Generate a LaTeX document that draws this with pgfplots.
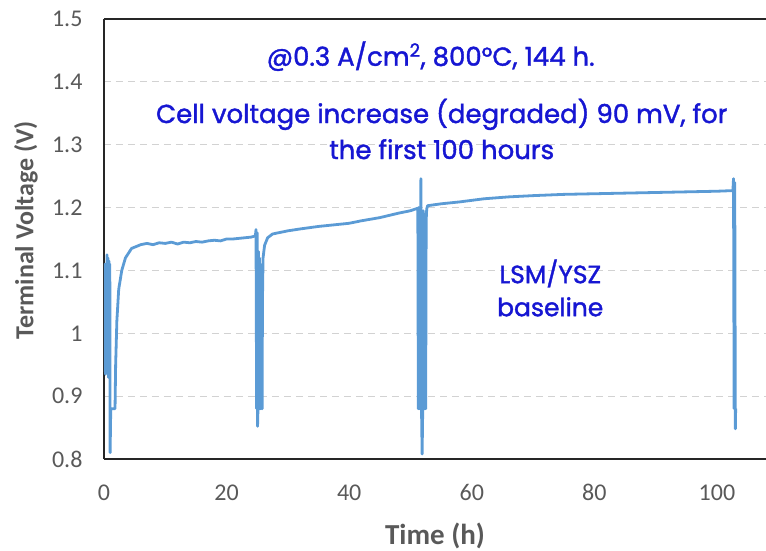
\documentclass[border=0pt]{standalone}
\usepackage{pgfplots}
\usepackage{pgfplotstable}
\pgfplotsset{compat=1.18}
\usepackage{fontspec}
\setmainfont{Carlito}
\newfontfamily\annfont[FakeBold=1.5]{Poppins}
\definecolor{curveblue}{RGB}{91,155,213}
\definecolor{tickgray}{RGB}{89,89,89}
\definecolor{anncol}{RGB}{22,22,210}
\definecolor{gridgray}{RGB}{210,210,210}

\pgfplotstableread{
t V
0.00 1.100
0.08 0.940
0.16 1.110
0.24 0.935
0.32 1.110
0.40 0.940
0.48 1.125
0.56 0.945
0.64 1.120
0.72 0.930
0.80 1.115
0.88 0.930
0.95 1.110
1.00 0.810
1.10 0.880
1.40 0.880
1.80 0.880
1.90 0.950
2.10 1.020
2.40 1.070
2.90 1.100
3.50 1.120
4.50 1.135
6.00 1.141
7.00 1.143
8.00 1.141
9.00 1.144
10.0 1.143
11.0 1.145
12.0 1.142
13.0 1.145
14.0 1.144
15.0 1.146
16.0 1.145
17.0 1.147
18.0 1.148
19.0 1.147
20.0 1.150
21.0 1.150
22.0 1.151
23.0 1.152
24.0 1.153
24.70 1.155
24.80 1.165
24.90 0.880
25.00 1.160
25.05 0.852
25.12 0.880
25.20 1.130
25.28 0.880
25.36 1.120
25.44 0.880
25.52 1.110
25.60 0.880
25.70 1.050
25.80 0.880
25.85 1.050
25.95 1.120
26.20 1.140
26.70 1.152
27.50 1.158
30.0 1.163
32.0 1.166
35.0 1.170
38.0 1.173
40.0 1.175
42.0 1.179
45.0 1.184
48.0 1.191
50.0 1.195
51.2 1.199
51.28 0.880
51.36 1.200
51.44 0.880
51.52 1.200
51.60 0.880
51.70 1.246
51.80 0.880
51.90 0.808
52.00 0.880
52.08 1.195
52.16 0.880
52.24 1.190
52.32 0.880
52.40 1.185
52.48 0.880
52.56 1.180
52.65 1.198
52.80 1.203
55.0 1.206
58.0 1.209
62.0 1.214
66.0 1.217
70.0 1.219
75.0 1.221
80.0 1.222
85.0 1.223
90.0 1.224
95.0 1.225
100.0 1.226
102.6 1.227
102.70 1.246
102.80 0.880
102.90 1.240
103.00 0.848
103.05 0.880
}\datatable

\begin{document}
\begin{tikzpicture}
\begin{axis}[
  at={(0,0)}, anchor=south west,
  scale only axis, width=662pt, height=440pt,
  xmin=0, xmax=108, ymin=0.8, ymax=1.5,
  axis x line=box, axis y line=left,
  x axis line style={-, line width=2pt, color=black!85},
  y axis line style={-, line width=2pt, color=black!85},
  xtick={0,20,40,60,80,100},
  ytick={0.8,0.9,1,1.1,1.2,1.3,1.4,1.5},
  yticklabels={0.8,0.9,1,1.1,1.2,1.3,1.4,1.5},
  major tick length=0pt,
  ymajorgrids,
  grid style={gridgray, line width=1pt, dash pattern=on 7pt off 5pt},
  /pgf/number format/assume math mode=true,
  tick label style={font=\fontsize{24}{28}\selectfont, color=tickgray},
  yticklabel style={xshift=-18pt},
  xticklabel style={yshift=-22pt},
  xlabel={Time (h)},
  ylabel={Terminal Voltage (V)},
  xlabel style={font=\bfseries\fontsize{29}{33}\selectfont, color=tickgray, at={(axis description cs:0.5,-0.174)}, anchor=center},
  ylabel style={font=\bfseries\fontsize{26}{30}\selectfont, color=tickgray, at={(axis description cs:-0.118,0.52)}, anchor=center},
]
\addplot[curveblue, line width=2.8pt, line join=round] table[x=t, y=V] {\datatable};
\node[anncol, font=\annfont\fontsize{26}{30}\selectfont] at (axis cs:53.3,1.441) {@0.3 A/cm\textsuperscript{2}, 800°C, 144 h.};
\node[anncol, font=\annfont\fontsize{26}{36}\selectfont, align=center] at (axis cs:55.1,1.325) {Cell voltage increase (degraded) 90 mV, for\\the first 100 hours};
\node[anncol, font=\annfont\fontsize{25}{33}\selectfont, align=center] at (axis cs:72.8,1.072) {LSM/YSZ\\baseline};
\end{axis}
\pgfresetboundingbox
\path[use as bounding box] (-104pt,-91pt) rectangle (662pt,459pt);
\end{tikzpicture}
\end{document}
